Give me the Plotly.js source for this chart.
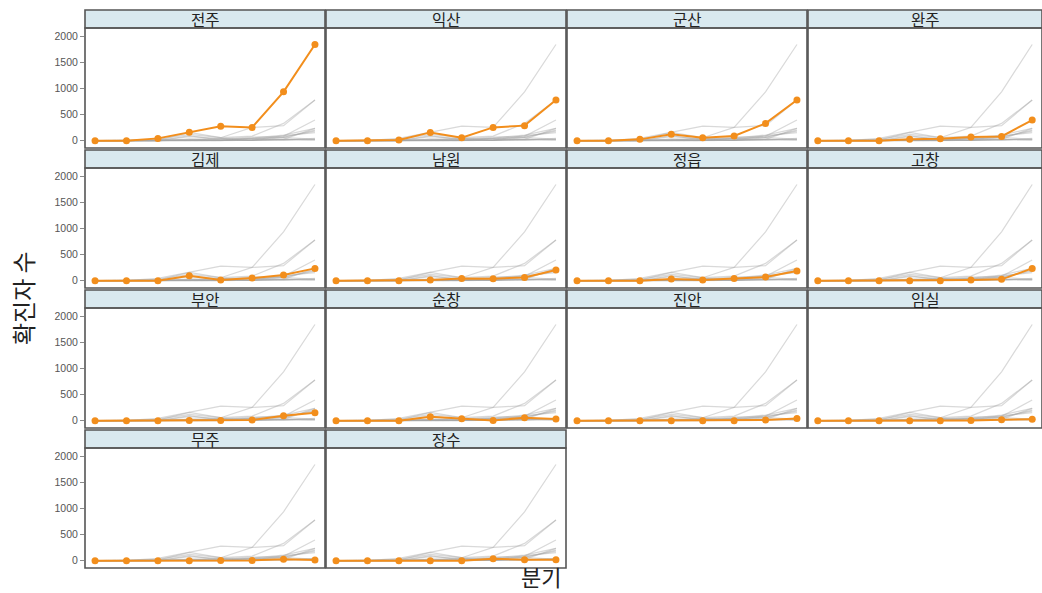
<!DOCTYPE html>
<html>
<head>
<meta charset="utf-8">
<script src="https://cdn.plot.ly/plotly-3.0.1.min.js"></script>
<style>html,body{margin:0;padding:0;background:#fff;}#chart{width:1042px;height:593px;}</style>
</head>
<body>
<div id="chart"></div>
<script>
// ---- data ----
const quarters = [1, 2, 3, 4, 5, 6, 7, 8];
const regions = ["전주", "익산", "군산", "완주", "김제", "남원", "정읍", "고창", "부안", "순창", "진안", "임실", "무주", "장수"];
const jeonju  = [0, 0, 45, 165, 280, 255, 940, 1850];
const iksan   = [0, 0, 13, 160, 58, 256, 290, 782];
const gunsan  = [0, 0, 26, 122, 58, 90, 333, 782];
const wanju   = [0, 0, 0, 26, 38, 70, 83, 397];
const gimje   = [0, 0, 0, 96, 13, 51, 109, 237];
const namwon  = [0, 0, 0, 13, 45, 38, 64, 205];
const jeongeup= [0, 0, 0, 32, 13, 45, 70, 186];
const gochang = [0, 0, 0, 0, 0, 13, 26, 237];
const buan    = [0, 0, 0, 6, 6, 13, 96, 154];
const sunchang= [0, 0, 0, 77, 38, 6, 58, 32];
const jinan   = [0, 0, 0, 0, 0, 0, 13, 45];
const imsil   = [0, 0, 0, 0, 0, 6, 20, 26];
const muju    = [0, 0, 0, 0, 6, 6, 26, 13];
const jangsu  = [0, 0, 0, 0, 0, 38, 20, 20];
const seriesValues = [jeonju, iksan, gunsan, wanju, gimje, namwon, jeongeup, gochang, buan, sunchang, jinan, imsil, muju, jangsu];
const yTickVals = [0, 500, 1000, 1500, 2000];
const yTickText = ["0", "500", "1000", "1500", "2000"];

// ---- layout geometry (pixels) ----
const W = 1042, H = 593;
const colX = [[85, 325], [326, 566], [567, 807], [808, 1042]];
const rowY = [[10, 28, 148], [150, 168, 288], [290, 308, 428], [430, 448, 568]];
const px = v => v / W;
const py = v => 1 - v / H;

const traces = [];
const layout = {
  width: W, height: H,
  margin: {l: 0, r: 0, t: 0, b: 0},
  paper_bgcolor: "#ffffff",
  plot_bgcolor: "#ffffff",
  showlegend: false,
  font: {family: "Liberation Sans, Noto Sans CJK KR, sans-serif", color: "#444"},
  shapes: [],
  annotations: []
};

regions.forEach((name, i) => {
  const r = Math.floor(i / 4), c = i % 4;
  const n = i + 1;
  const xa = "x" + (n === 1 ? "" : n), ya = "y" + (n === 1 ? "" : n);
  const xk = "xaxis" + (n === 1 ? "" : n), yk = "yaxis" + (n === 1 ? "" : n);
  const [x0, x1] = colX[c];
  const [s0, p0, p1] = rowY[r];

  layout[xk] = {
    domain: [px(x0), px(x1)], anchor: ya, range: [0.68, 8.32],
    showticklabels: false, ticks: "", showgrid: false, zeroline: false, showline: false,
    fixedrange: true
  };
  layout[yk] = {
    domain: [py(p1), py(p0)], anchor: xa, range: [-140, 2167],
    tickvals: yTickVals, ticktext: yTickText,
    showticklabels: c === 0, ticks: c === 0 ? "outside" : "", ticklen: 4, tickcolor: "#8a8a8a", tickwidth: 1,
    tickfont: {size: 10.5, color: "#555", family: "Liberation Sans, Arial, sans-serif"},
    showgrid: false, zeroline: false, showline: false, fixedrange: true
  };

  // background series (all others) in grey
  seriesValues.forEach((vals, j) => {
    if (j === i) return;
    traces.push({
      x: quarters, y: vals, xaxis: xa, yaxis: ya, type: "scatter", mode: "lines",
      line: {color: "rgba(165,165,165,0.42)", width: 1.2}, hoverinfo: "skip"
    });
  });
  // highlighted series
  traces.push({
    x: quarters, y: seriesValues[i], xaxis: xa, yaxis: ya, type: "scatter", mode: "lines+markers",
    line: {color: "#F28E1C", width: 2}, marker: {color: "#F28E1C", size: 7},
    name: name
  });

  // panel border
  layout.shapes.push({
    type: "rect", xref: "paper", yref: "paper",
    x0: px(x0), x1: px(x1), y0: py(p1), y1: py(p0),
    line: {color: "#555555", width: 1.6}, fillcolor: "rgba(0,0,0,0)", layer: "above"
  });
  // strip
  layout.shapes.push({
    type: "rect", xref: "paper", yref: "paper",
    x0: px(x0), x1: px(x1), y0: py(p0), y1: py(s0),
    line: {color: "#555555", width: 1.6}, fillcolor: "#D9E9EF", layer: "below"
  });
  layout.annotations.push({
    xref: "paper", yref: "paper", x: px((x0 + x1) / 2), y: py((s0 + p0) / 2),
    text: name, showarrow: false, xanchor: "center", yanchor: "middle",
    font: {size: 15.5, color: "#222", family: "Noto Sans CJK KR, sans-serif"}
  });
});

// axis titles
layout.annotations.push({
  xref: "paper", yref: "paper", x: px(22), y: py(298), text: "확진자 수",
  showarrow: false, textangle: -90, xanchor: "center", yanchor: "middle",
  font: {size: 24, color: "#222", family: "Noto Sans CJK KR, sans-serif"}
});
layout.annotations.push({
  xref: "paper", yref: "paper", x: px(541), y: py(576), text: "분기",
  showarrow: false, xanchor: "center", yanchor: "middle",
  font: {size: 22, color: "#222", family: "Noto Sans CJK KR, sans-serif"}
});

Plotly.newPlot("chart", traces, layout, {displayModeBar: false, staticPlot: true});
</script>
</body>
</html>
